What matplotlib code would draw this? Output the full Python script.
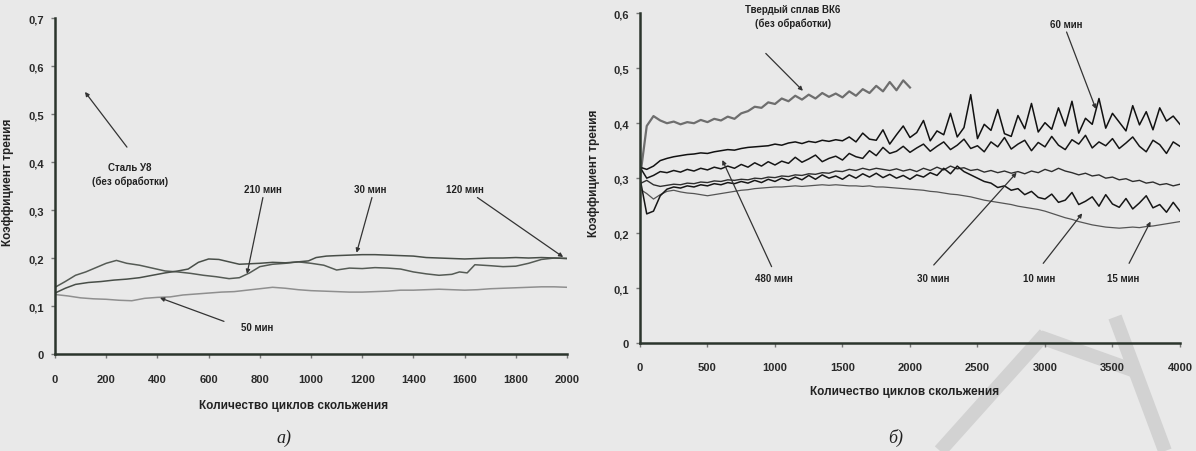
import matplotlib.pyplot as plt
import numpy as np
from matplotlib.lines import Line2D

plt.rcParams['font.family'] = ['Liberation Sans', 'DejaVu Sans']

# ---------- a) сталь У8 ----------
a_210_x = [0, 40, 80, 120, 160, 200, 240, 280, 330, 380,
           430, 480, 530, 580, 630, 680, 720, 760, 800, 850,
           900, 950, 1000, 1050, 1100, 1150, 1200, 1250, 1300, 1350,
           1400, 1450, 1500, 1550, 1580, 1610, 1640, 1700, 1750, 1800,
           1850, 1900, 1950, 2000]
a_210_y = [0.140, 0.152, 0.165, 0.172, 0.181, 0.190, 0.196, 0.190, 0.186, 0.180,
           0.174, 0.172, 0.169, 0.165, 0.162, 0.158, 0.160, 0.170, 0.183, 0.188,
           0.190, 0.193, 0.190, 0.186, 0.176, 0.180, 0.179, 0.181, 0.180, 0.178,
           0.172, 0.168, 0.165, 0.167, 0.172, 0.170, 0.187, 0.185, 0.183, 0.184,
           0.190, 0.198, 0.201, 0.200]

a_30_x = [0, 40, 80, 130, 180, 230, 280, 330, 380, 430,
          480, 520, 560, 600, 640, 680, 720, 760, 800, 850,
          900, 950, 990, 1020, 1060, 1100, 1150, 1200, 1250, 1300,
          1350, 1400, 1450, 1500, 1550, 1600, 1650, 1700, 1750, 1800,
          1850, 1900, 1950, 2000]
a_30_y = [0.128, 0.138, 0.146, 0.150, 0.152, 0.155, 0.157, 0.160, 0.165, 0.170,
          0.174, 0.178, 0.192, 0.199, 0.198, 0.193, 0.188, 0.189, 0.190, 0.192,
          0.191, 0.193, 0.195, 0.202, 0.205, 0.206, 0.207, 0.208, 0.208, 0.207,
          0.206, 0.205, 0.202, 0.201, 0.200, 0.199, 0.200, 0.201, 0.201, 0.202,
          0.201, 0.202, 0.201, 0.200]

a_50_x = np.arange(0, 2001, 50)
a_50_y = [0.125, 0.122, 0.118, 0.116, 0.115, 0.113, 0.112, 0.117, 0.119, 0.120,
          0.124, 0.126, 0.128, 0.130, 0.131, 0.134, 0.137, 0.140, 0.138, 0.135,
          0.133, 0.132, 0.131, 0.130, 0.130, 0.131, 0.132, 0.134, 0.134, 0.135,
          0.136, 0.135, 0.134, 0.135, 0.137, 0.138, 0.139, 0.140, 0.141, 0.141,
          0.140]

a_xticks = [0, 200, 400, 600, 800, 1000, 1200, 1400, 1600, 1800, 2000]
a_yticks = [0, 0.1, 0.2, 0.3, 0.4, 0.5, 0.6, 0.7]
a_ylabels = ['0', '0,1', '0,2', '0,3', '0,4', '0,5', '0,6', '0,7']

a_notes = ['Сталь У8\n(без обработки)', '210 мин', '30 мин', '120 мин', '50 мин']
a_note_xy = [(293, 0.376), (812, 0.345), (1230, 0.345), (1600, 0.345), (790, 0.058)]
a_tail = [(281, 0.432), (812, 0.327), (1238, 0.327), (1650, 0.327), (660, 0.069)]
a_tip = [(117, 0.547), (750, 0.168), (1178, 0.212), (1985, 0.203), (410, 0.118)]

# ---------- б) твердый сплав ВК6 ----------
b_x = np.arange(0, 4001, 50)
b_vk6_x = np.arange(0, 2001, 50)
b_vk6 = [0.300, 0.395, 0.413, 0.405, 0.400, 0.403, 0.398, 0.402, 0.400, 0.406,
         0.402, 0.408, 0.405, 0.412, 0.408, 0.418, 0.422, 0.430, 0.428, 0.438,
         0.435, 0.445, 0.440, 0.450, 0.443, 0.452, 0.445, 0.455, 0.448, 0.454,
         0.447, 0.458, 0.450, 0.462, 0.455, 0.468, 0.458, 0.475, 0.460, 0.478,
         0.465]
b_60 = [0.320, 0.316, 0.322, 0.332, 0.336, 0.339, 0.341, 0.343, 0.344, 0.346,
        0.345, 0.348, 0.350, 0.352, 0.351, 0.354, 0.356, 0.357, 0.358, 0.359,
        0.362, 0.360, 0.364, 0.366, 0.363, 0.367, 0.365, 0.369, 0.367, 0.370,
        0.368, 0.375, 0.366, 0.382, 0.371, 0.369, 0.388, 0.362, 0.379, 0.395,
        0.374, 0.383, 0.405, 0.368, 0.386, 0.379, 0.418, 0.375, 0.392, 0.452,
        0.372, 0.398, 0.387, 0.425, 0.381, 0.376, 0.414, 0.390, 0.436, 0.384,
        0.401, 0.389, 0.428, 0.395, 0.440, 0.382, 0.409, 0.398, 0.445, 0.391,
        0.418, 0.402, 0.386, 0.432, 0.397, 0.421, 0.388, 0.428, 0.404, 0.413,
        0.398]
b_480 = [0.320, 0.300, 0.305, 0.312, 0.310, 0.314, 0.311, 0.316, 0.313, 0.318,
         0.315, 0.320, 0.317, 0.322, 0.318, 0.325, 0.320, 0.328, 0.322, 0.330,
         0.324, 0.331, 0.327, 0.338, 0.329, 0.335, 0.342, 0.330, 0.336, 0.340,
         0.333, 0.345, 0.339, 0.336, 0.350, 0.341, 0.356, 0.345, 0.349, 0.358,
         0.347, 0.355, 0.362, 0.349, 0.358, 0.366, 0.352, 0.360, 0.371, 0.354,
         0.359, 0.348, 0.366, 0.357, 0.374, 0.353, 0.362, 0.369, 0.350, 0.365,
         0.357, 0.376, 0.360, 0.352, 0.370, 0.362, 0.378, 0.355, 0.366, 0.359,
         0.372, 0.354, 0.364, 0.375, 0.358, 0.348, 0.369, 0.361, 0.345, 0.366,
         0.358]
b_30 = [0.290, 0.296, 0.288, 0.285, 0.287, 0.289, 0.288, 0.291, 0.290, 0.293,
        0.292, 0.295, 0.294, 0.297, 0.296, 0.298, 0.297, 0.300, 0.299, 0.302,
        0.301, 0.304, 0.303, 0.306, 0.305, 0.308, 0.307, 0.310, 0.309, 0.313,
        0.312, 0.316, 0.314, 0.318, 0.315, 0.318, 0.316, 0.314, 0.317, 0.313,
        0.316, 0.312, 0.318, 0.314, 0.320, 0.315, 0.322, 0.317, 0.319, 0.314,
        0.316, 0.311, 0.314, 0.310, 0.313, 0.309, 0.312, 0.308, 0.313, 0.310,
        0.316, 0.312, 0.318, 0.313, 0.310, 0.306, 0.309, 0.304, 0.306, 0.300,
        0.302, 0.297, 0.299, 0.294, 0.296, 0.291, 0.293, 0.288, 0.290, 0.286,
        0.289]
b_10 = [0.300, 0.235, 0.240, 0.268, 0.280, 0.284, 0.282, 0.286, 0.284, 0.288,
        0.286, 0.290, 0.288, 0.292, 0.290, 0.294, 0.291, 0.296, 0.292, 0.298,
        0.294, 0.300, 0.296, 0.302, 0.297, 0.305, 0.298, 0.306, 0.300, 0.304,
        0.298, 0.306, 0.300, 0.308, 0.302, 0.309, 0.301, 0.307, 0.300, 0.305,
        0.298, 0.306, 0.302, 0.310, 0.305, 0.318, 0.308, 0.322, 0.312, 0.306,
        0.300, 0.294, 0.291, 0.283, 0.286, 0.278, 0.281, 0.270, 0.276, 0.265,
        0.262, 0.271, 0.256, 0.260, 0.274, 0.252, 0.258, 0.266, 0.249, 0.270,
        0.253, 0.247, 0.263, 0.244, 0.255, 0.268, 0.246, 0.252, 0.238, 0.256,
        0.240]
b_15 = [0.280, 0.272, 0.262, 0.270, 0.276, 0.278, 0.275, 0.273, 0.272, 0.270,
        0.268, 0.270, 0.272, 0.274, 0.276, 0.278, 0.279, 0.281, 0.282, 0.283,
        0.284, 0.284, 0.285, 0.286, 0.285, 0.286, 0.287, 0.288, 0.287, 0.288,
        0.287, 0.286, 0.286, 0.285, 0.286, 0.284, 0.284, 0.283, 0.282, 0.281,
        0.280, 0.279, 0.278, 0.276, 0.275, 0.273, 0.271, 0.270, 0.268, 0.266,
        0.263, 0.260, 0.258, 0.256, 0.254, 0.252, 0.249, 0.247, 0.245, 0.243,
        0.240, 0.236, 0.232, 0.228, 0.225, 0.221, 0.218, 0.215, 0.213, 0.211,
        0.210, 0.209, 0.210, 0.211, 0.210, 0.212, 0.213, 0.215, 0.217, 0.219,
        0.221]

b_xticks = [0, 500, 1000, 1500, 2000, 2500, 3000, 3500, 4000]
b_yticks = [0, 0.1, 0.2, 0.3, 0.4, 0.5, 0.6]
b_ylabels = ['0', '0,1', '0,2', '0,3', '0,4', '0,5', '0,6']

b_notes = ['Твердый сплав ВК6\n(без обработки)', '60 мин', '480 мин', '30 мин', '10 мин', '15 мин']
b_note_xy = [(1134, 0.595), (3160, 0.581), (990, 0.118), (2176, 0.118), (2958, 0.118), (3580, 0.118)]
b_tail = [(932, 0.527), (3160, 0.566), (975, 0.139), (2176, 0.142), (2987, 0.145), (3623, 0.145)]
b_tip = [(1207, 0.459), (3377, 0.426), (610, 0.333), (2790, 0.310), (3276, 0.236), (3782, 0.221)]

xlabel = 'Количество циклов скольжения'
ylabel = 'Коэффициент трения'

fig = plt.figure(figsize=(11.96, 4.52), dpi=100)
fig.patch.set_facecolor('#e9e9e9')

# light grey watermark strokes of the scanned page (pixel coords)
for xs, ys in [([940, 1045], [452, 335]), ([1040, 1135], [338, 372]), ([1115, 1165], [318, 452])]:
    fig.add_artist(Line2D([x / 1196 for x in xs], [1 - y / 452 for y in ys],
                          color='#d2d2d2', lw=10, solid_capstyle='butt', zorder=0))

ax1 = fig.add_axes([0.046, 0.2135, 0.4281, 0.7434])
ax2 = fig.add_axes([0.5351, 0.2389, 0.4515, 0.7294])


def style(ax, xmax, ymax, xt, yt, ytl):
    ax.patch.set_alpha(0)
    ax.set_xlim(0, xmax)
    ax.set_ylim(0, ymax)
    for s in ['top', 'right']:
        ax.spines[s].set_visible(False)
    for s in ['left', 'bottom']:
        ax.spines[s].set_color('#2b352c')
        ax.spines[s].set_linewidth(1.8)
    ax.set_xticks(xt)
    ax.set_yticks(yt)
    ax.set_yticklabels(ytl)
    ax.tick_params(axis='x', direction='out', length=3, width=1, color='#777',
                   labelsize=8, pad=11)
    ax.tick_params(axis='y', direction='out', length=3, width=1, color='#777',
                   labelsize=8, pad=5)
    for lbl in ax.get_xticklabels() + ax.get_yticklabels():
        lbl.set_fontweight('bold')
        lbl.set_color('#2a2a2a')


def notes(ax, texts, pos, tails, tips):
    for t, p, a, b in zip(texts, pos, tails, tips):
        ax.text(p[0], p[1], t, ha='center', va='center', fontsize=7,
                fontweight='bold', color='#222', linespacing=1.5, clip_on=False)
        ax.annotate('', xy=b, xytext=a,
                    arrowprops=dict(arrowstyle='-|>', color='#333', lw=0.9,
                                    mutation_scale=6, shrinkA=0, shrinkB=0))


# a)
ax1.plot(a_50_x, a_50_y, color='#8f8f8f', lw=1.1)
ax1.plot(a_210_x, a_210_y, color='#555b55', lw=1.1)
ax1.plot(a_30_x, a_30_y, color='#484e48', lw=1.1)
style(ax1, 2000, 0.7, a_xticks, a_yticks, a_ylabels)
notes(ax1, a_notes, a_note_xy, a_tail, a_tip)

# б)
ax2.plot(b_vk6_x, b_vk6, color='#6e6e6e', lw=1.6)
ax2.plot(b_x, b_15, color='#555555', lw=0.9)
ax2.plot(b_x, b_30, color='#2e2e2e', lw=1.0)
ax2.plot(b_x, b_10, color='#161616', lw=1.1)
ax2.plot(b_x, b_480, color='#161616', lw=1.1)
ax2.plot(b_x, b_60, color='#111111', lw=1.1)
style(ax2, 4000, 0.6, b_xticks, b_yticks, b_ylabels)
notes(ax2, b_notes, b_note_xy, b_tail, b_tip)

fig.text(294 / 1196, 1 - 406 / 452, xlabel, ha='center', va='center',
         fontsize=8.5, fontweight='bold', color='#222')
fig.text(905 / 1196, 1 - 392 / 452, xlabel, ha='center', va='center',
         fontsize=8.5, fontweight='bold', color='#222')
fig.text(8 / 1196, 1 - 182 / 452, ylabel, ha='center', va='center', rotation=90,
         fontsize=8.5, fontweight='bold', color='#222')
fig.text(594 / 1196, 1 - 173 / 452, ylabel, ha='center', va='center', rotation=90,
         fontsize=8.5, fontweight='bold', color='#222')

fig.text(284 / 1196, 1 - 438 / 452, 'а)', ha='center', va='center', fontsize=13,
         style='italic', family=['Liberation Serif', 'DejaVu Serif'], color='#222')
fig.text(896 / 1196, 1 - 438 / 452, 'б)', ha='center', va='center', fontsize=13,
         style='italic', family=['Liberation Serif', 'DejaVu Serif'], color='#222')

fig.savefig('out.png', dpi=100, facecolor=fig.get_facecolor())
